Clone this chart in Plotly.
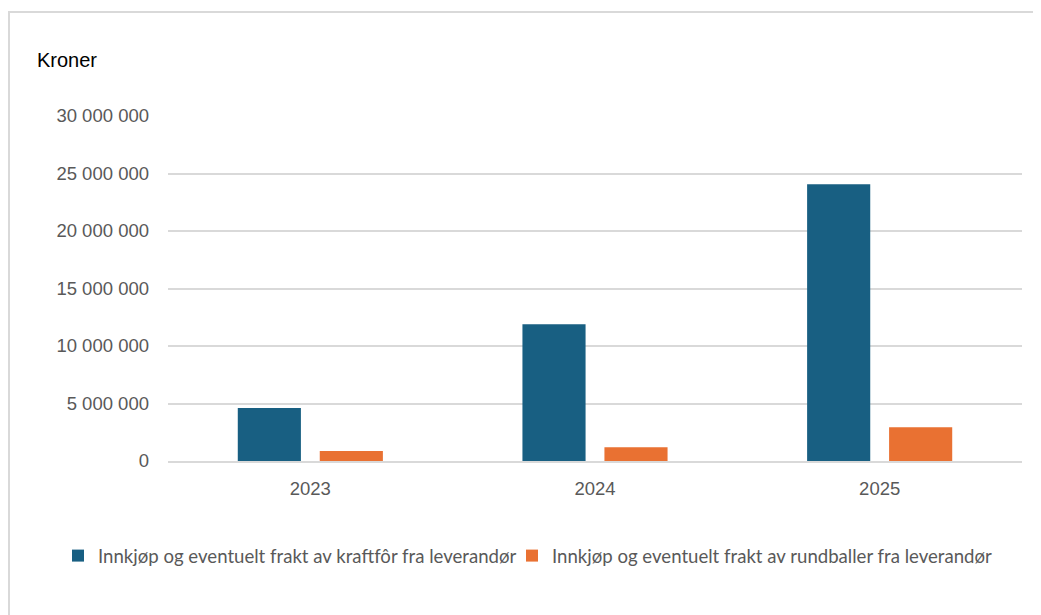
import plotly.graph_objects as go

years = ["2023", "2024", "2025"]
kraftfor = [4600000, 11900000, 24060000]
rundballer = [870000, 1190000, 2930000]
series_names = [
    "Innkjøp og eventuelt frakt av kraftfôr fra leverandør",
    "Innkjøp og eventuelt frakt av rundballer fra leverandør",
]
colors = ["#185F82", "#E97132"]
y_ticks = [0, 5000000, 10000000, 15000000, 20000000, 25000000, 30000000]

W, H = 1041, 615
OFF = 8  # page body margin
l, r, t, b = 168 - OFF, W - 1022 + OFF, 116 - OFF, H - 461 + OFF
pw, ph = W - l - r, H - t - b
def px(x): return (x - OFF - l) / pw
def py(y): return (H - b - (y - OFF)) / ph

fig = go.Figure()
for name, vals, c, lg in zip(series_names, [kraftfor, rundballer], colors, ["legend", "legend2"]):
    fig.add_trace(go.Bar(x=years, y=vals, name=name, legend=lg, showlegend=True,
                         marker=dict(color=c, line=dict(width=0))))

leg_common = dict(orientation="h", xref="container", yref="container", xanchor="left",
                  yanchor="middle", y=1 - (556 - OFF) / H,
                  font=dict(family="Lato", size=18.6, color="#595959"),
                  itemwidth=30, bgcolor="rgba(0,0,0,0)")

fig.update_layout(
    width=W, height=H, showlegend=True,
    paper_bgcolor="white", plot_bgcolor="white",
    margin=dict(l=l, r=r, t=t, b=b),
    barmode="group", bargap=0.424, bargroupgap=0.23,
    separators=", ",
    font=dict(family="Liberation Sans", color="#595959"),
    xaxis=dict(showgrid=False, showline=True, linecolor="#D9D9D9", linewidth=1.5,
               ticks="", ticklabelstandoff=10, tickfont=dict(size=18.5, color="#595959")),
    yaxis=dict(range=[0, 30000000], tickvals=y_ticks, tickformat=",d",
               showgrid=True, gridcolor="#D9D9D9", gridwidth=1.5, zeroline=False,
               ticks="", ticklabelstandoff=18,
               tickfont=dict(size=18.5, color="#595959")),
    legend=dict(x=(58 - OFF) / W, **leg_common),
    legend2=dict(x=(512 - OFF) / W, **leg_common),
    annotations=[dict(text="Kroner", x=px(35), y=py(60), xref="paper", yref="paper",
                      xanchor="left", yanchor="middle", showarrow=False,
                      font=dict(family="Liberation Sans", size=20, color="#000000"))],
    shapes=[dict(type="rect", xref="paper", yref="paper",
                 x0=px(9), x1=px(1060), y0=py(12), y1=py(640),
                 line=dict(color="#D9D9D9", width=2))],
)

fig.write_html("out.html")
